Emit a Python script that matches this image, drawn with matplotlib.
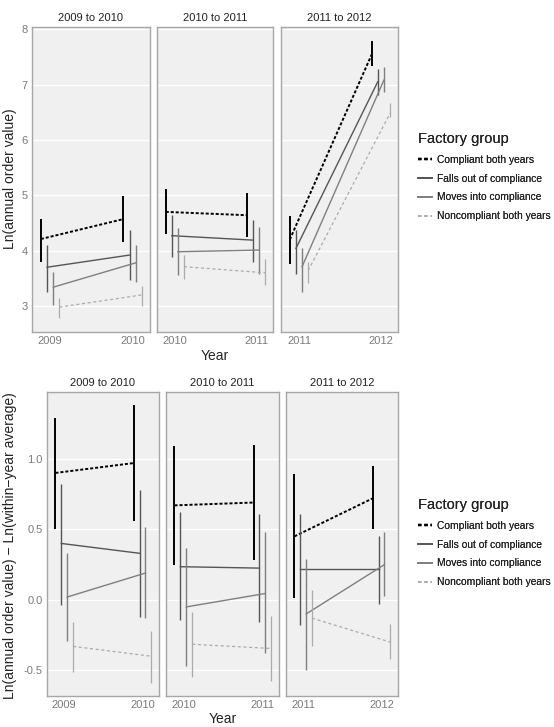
import matplotlib
matplotlib.use("Agg")
import matplotlib.pyplot as plt
from matplotlib.lines import Line2D

plt.rcParams['font.family'] = ['Liberation Sans', 'DejaVu Sans']
plt.rcParams['lines.scale_dashes'] = False

# facets
periods = ["2009 to 2010", "2010 to 2011", "2011 to 2012"]
start_years = [2009, 2010, 2011]
groups = ["Compliant both years", "Falls out of compliance",
          "Moves into compliance", "Noncompliant both years"]

# each tuple: (mean start, low start, high start, mean end, low end, high end)
# top: Ln(annual order value)
top_compliant = [(4.21, 3.80, 4.58, 4.57, 4.15, 4.98),
                 (4.70, 4.30, 5.11, 4.64, 4.24, 5.05),
                 (4.20, 3.76, 4.63, 7.54, 7.34, 7.78)]
top_falls_out = [(3.70, 3.26, 4.11, 3.92, 3.47, 4.37),
                 (4.27, 3.88, 4.64, 4.19, 3.80, 4.55),
                 (4.04, 3.58, 4.37, 7.05, 6.81, 7.29)]
top_moves_in = [(3.34, 3.02, 3.62, 3.78, 3.44, 4.10),
                (3.98, 3.56, 4.40, 4.01, 3.58, 4.43),
                (3.71, 3.25, 4.04, 7.08, 6.87, 7.31)]
top_noncompliant = [(2.98, 2.78, 3.14, 3.20, 3.00, 3.36),
                    (3.71, 3.49, 3.93, 3.60, 3.38, 3.84),
                    (3.64, 3.42, 3.80, 6.48, 6.42, 6.66)]

# bottom: Ln(annual order value) - Ln(within-year average)
bot_compliant = [(0.90, 0.50, 1.29, 0.97, 0.56, 1.38),
                 (0.67, 0.25, 1.09, 0.69, 0.28, 1.10),
                 (0.45, 0.01, 0.89, 0.72, 0.50, 0.95)]
bot_falls_out = [(0.40, -0.04, 0.82, 0.33, -0.12, 0.78),
                 (0.235, -0.145, 0.62, 0.225, -0.155, 0.61),
                 (0.22, -0.18, 0.61, 0.22, -0.03, 0.45)]
bot_moves_in = [(0.02, -0.29, 0.33, 0.19, -0.13, 0.52),
                (-0.05, -0.47, 0.37, 0.045, -0.38, 0.48),
                (-0.10, -0.50, 0.29, 0.25, 0.03, 0.48)]
bot_noncompliant = [(-0.33, -0.51, -0.16, -0.40, -0.59, -0.22),
                    (-0.315, -0.55, -0.085, -0.345, -0.575, -0.115),
                    (-0.13, -0.33, 0.07, -0.30, -0.42, -0.17)]

colors = ["#000000", "#555555", "#7f7f7f", "#ababab"]
dashes = [(2.2, 1.4), None, None, (2.2, 1.9)]
widths = [1.4, 1.0, 1.0, 0.9]
offsets = [-0.1125, -0.0375, 0.0375, 0.1125]

W, H = 554, 727
fig = plt.figure(figsize=(W / 100, H / 100), dpi=100)


def rect(x0, x1, ytop, ybot):
    return [x0 / W, 1 - ybot / H, (x1 - x0) / W, (ybot - ytop) / H]


def draw_block(series, xspans, ytop, ybot, ylim, yticks, yticklabels, ylabel, ylab_y, year_y):
    for p in range(3):
        ax = fig.add_axes(rect(xspans[p][0], xspans[p][1], ytop, ybot))
        ax.set_facecolor("#f0f0f0")
        y0 = start_years[p]
        for g in range(4):
            m0, l0, h0, m1, l1, h1 = series[g][p]
            xa, xb = y0 + offsets[g], y0 + 1 + offsets[g]
            ax.vlines([xa, xb], [l0, l1], [h0, h1], color=colors[g],
                      lw=widths[g], zorder=3)
            ln, = ax.plot([xa, xb], [m0, m1], color=colors[g], lw=widths[g], zorder=3)
            if dashes[g]:
                ln.set_dashes(dashes[g])
        ax.set_xlim(y0 - 0.22, y0 + 1.21)
        ax.set_ylim(*ylim)
        ax.set_xticks([y0, y0 + 1])
        ax.set_xticklabels([str(y0), str(y0 + 1)])
        ax.set_yticks(yticks)
        if p == 0:
            ax.set_yticklabels(yticklabels)
        else:
            ax.set_yticklabels([])
        ax.tick_params(length=0, labelsize=8, colors="#7a7a7a", pad=3)
        ax.grid(axis="y", color="white", lw=1.0, zorder=1)
        ax.set_axisbelow(True)
        for s in ax.spines.values():
            s.set_color("#a6a6a6")
            s.set_linewidth(1.0)
        ax.set_title(periods[p], fontsize=8, color="#222222", pad=4)
    fig.text(10 / W, 1 - ylab_y / H, ylabel, rotation=90, ha="center", va="center",
             fontsize=10, color="#222222")
    cx = (xspans[0][0] + xspans[2][1]) / 2
    fig.text(cx / W, 1 - year_y / H, "Year", ha="center", va="center",
             fontsize=10, color="#222222")


top_series = [top_compliant, top_falls_out, top_moves_in, top_noncompliant]
bot_series = [bot_compliant, bot_falls_out, bot_moves_in, bot_noncompliant]

draw_block(top_series, [(32, 150), (157, 273), (281, 398)], 27, 332,
           (2.53, 8.04), [3, 4, 5, 6, 7, 8], ["3", "4", "5", "6", "7", "8"],
           "Ln(annual order value)", 179, 356)
draw_block(bot_series, [(47, 159), (166, 279), (286, 398)], 392, 696,
           (-0.682, 1.474), [-0.5, 0.0, 0.5, 1.0], ["-0.5", "0.0", "0.5", "1.0"],
           "Ln(annual order value) \u2212 Ln(within\u2212year average)", 546, 719)

handles = []
for g in range(4):
    h = Line2D([], [], color=colors[g], lw=widths[g] + 0.3)
    if dashes[g]:
        h.set_dashes((2.5, 2.0))
    handles.append(h)

for ytitle in (135, 501):
    leg = fig.legend(handles, groups, title="Factory group", loc="upper left",
                     bbox_to_anchor=(409 / W, 1 - (ytitle - 12) / H),
                     frameon=False, fontsize=7.4, title_fontsize=10.5,
                     handlelength=1.3, handletextpad=0.5, labelspacing=0.85)
    leg._legend_box.align = "left"
    for t in leg.get_texts():
        t.set_color("#222222")
    leg.get_title().set_color("#222222")
    fig.add_artist(leg)

fig.savefig("out.png", dpi=100)
